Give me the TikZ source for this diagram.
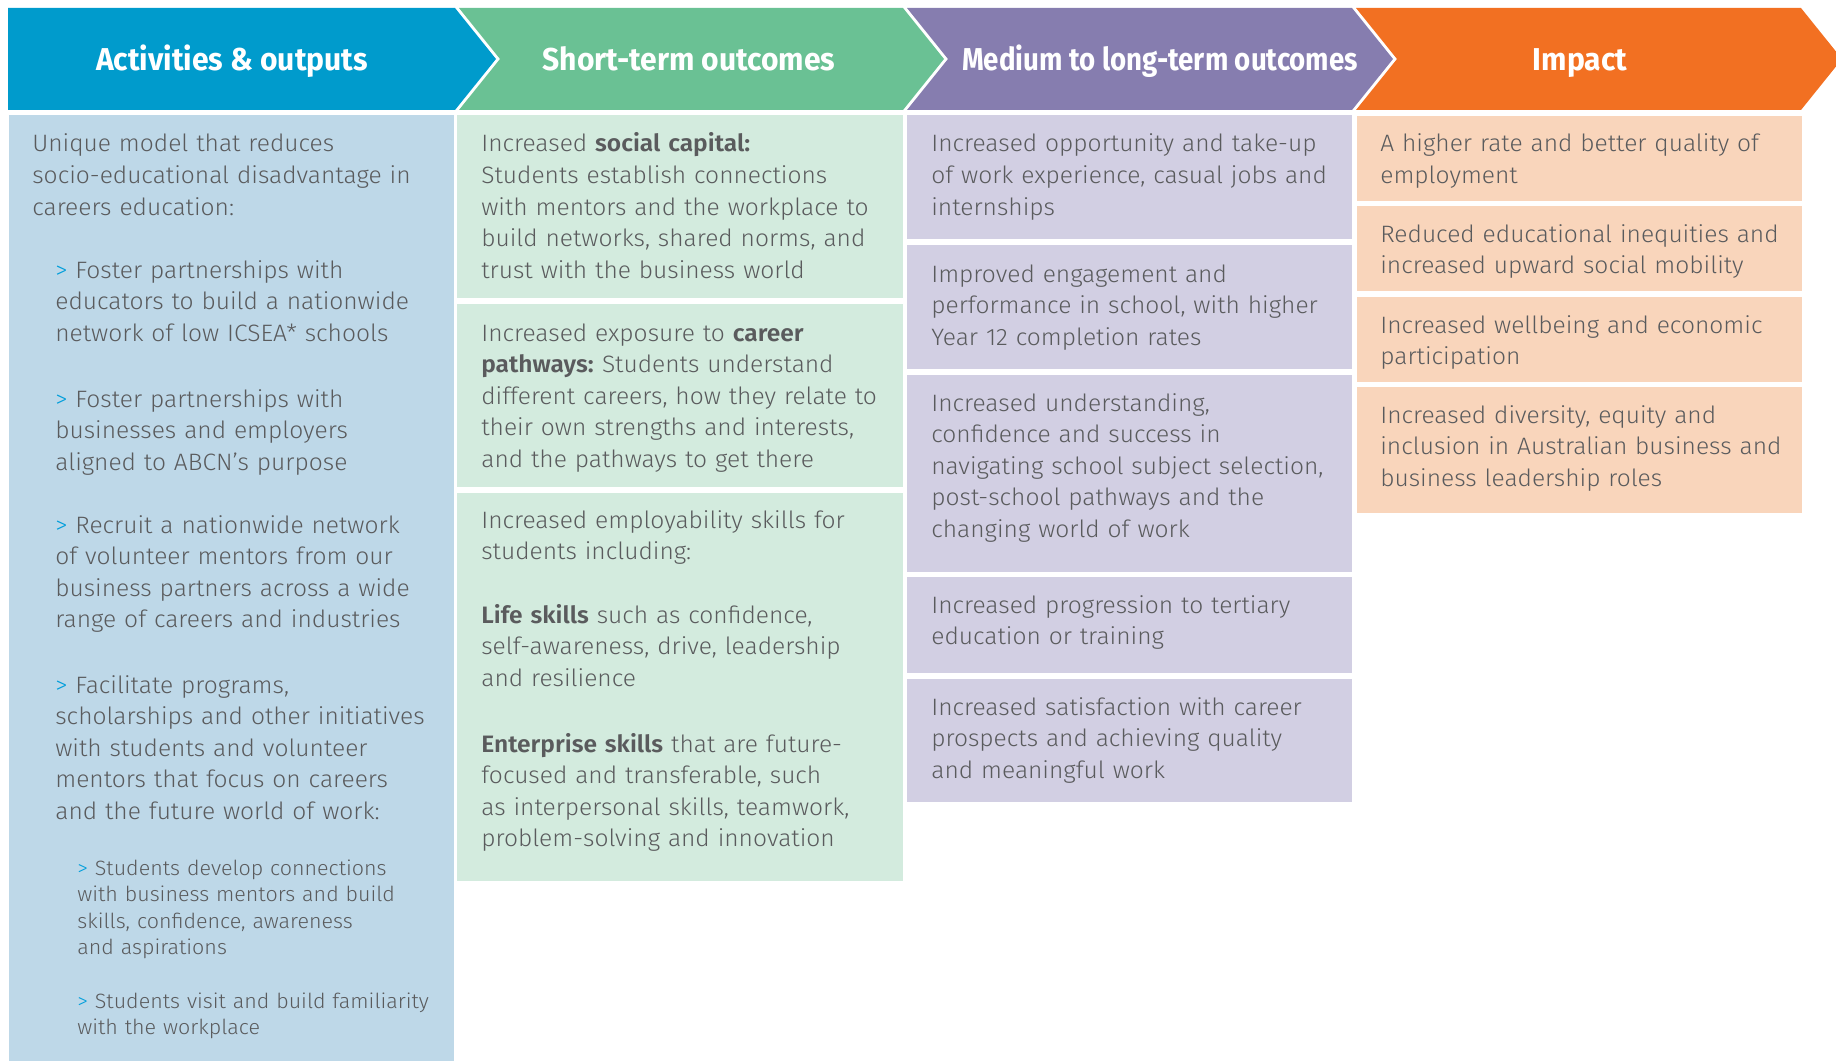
\documentclass[tikz,border=0pt]{standalone}
\usepackage{fontspec}
\setmainfont{Fira Sans}[UprightFont=* Light, BoldFont=* SemiBold, FakeStretch=1.035]
\newfontfamily\headfont{Fira Sans}[UprightFont=* Bold, FakeStretch=0.95]
\newfontfamily\headnarrow{Fira Sans}[UprightFont=* Bold, FakeStretch=0.875]
\usetikzlibrary{positioning}

\definecolor{actdark}{HTML}{009BCC}
\definecolor{actlight}{HTML}{BED8E8}
\definecolor{shortdark}{HTML}{6AC194}
\definecolor{shortlight}{HTML}{D3EBDE}
\definecolor{meddark}{HTML}{867DAF}
\definecolor{medlight}{HTML}{D2CFE3}
\definecolor{impdark}{HTML}{F27022}
\definecolor{implight}{HTML}{F9D5BB}
\definecolor{bodygrey}{HTML}{5A5B5D}
\definecolor{bulletblue}{HTML}{009EDB}
\newcommand{\nxt}{{\color{bulletblue}>}\ }

\begin{document}
\begin{tikzpicture}[x=0.02cm, y=-0.02cm,
  head/.style={anchor=base, inner sep=0pt, text=white, font=\headfont\fontsize{18}{20}\selectfont},
  para/.style={anchor=base west, inner sep=0pt, text width=9.4cm, align=left, text=bodygrey, font=\fontsize{13.5}{17.97}\selectfont},
  subpara/.style={para, font=\fontsize{11.8}{15.1}\selectfont}]

\useasboundingbox (0,0) rectangle (1836,1061);

% header chevrons
\fill[actdark] (8,8) -- (455,8) -- (496,59) -- (455,110) -- (8,110) -- cycle;
\fill[shortdark] (459,8) -- (903,8) -- (944,59) -- (903,110) -- (459,110) -- (500,59) -- cycle;
\fill[meddark] (907,8) -- (1352,8) -- (1393,59) -- (1352,110) -- (907,110) -- (948,59) -- cycle;
\fill[impdark] (1356,8) -- (1801,8) -- (1842,59) -- (1801,110) -- (1356,110) -- (1397,59) -- cycle;

\node[head] (h1) at (232,71) {Activities \& outputs};
\node[head] (h2) at (689,71) {Short-term outcomes};
\node[head, font=\headnarrow\fontsize{18}{20}\selectfont] (h3) at (1160,71) {Medium to long-term outcomes};
\node[head] (h4) at (1580,71) {Impact};

% cells
\fill[actlight] (9,115) rectangle (454,1061);
\fill[shortlight] (457,115) rectangle (903,298);
\fill[shortlight] (457,304) rectangle (903,487);
\fill[shortlight] (457,493) rectangle (903,881);
\fill[medlight] (907,115) rectangle (1352,239);
\fill[medlight] (907,245) rectangle (1352,369);
\fill[medlight] (907,375) rectangle (1352,572);
\fill[medlight] (907,577) rectangle (1352,673);
\fill[medlight] (907,679) rectangle (1352,802);
\fill[implight] (1357,116) rectangle (1802,201);
\fill[implight] (1357,206) rectangle (1802,291);
\fill[implight] (1357,297) rectangle (1802,382);
\fill[implight] (1357,387) rectangle (1802,513);

\node[para] (act) at (32,152) {Unique model that reduces\\socio-educational disadvantage in\\careers education:};
\node[para] (act1) at (55,278) {\nxt Foster partnerships with\\educators to build a nationwide\\network of low ICSEA* schools};
\node[para] (act2) at (55,407) {\nxt Foster partnerships with\\businesses and employers\\aligned to ABCN’s purpose};
\node[para] (act3) at (55,533) {\nxt Recruit a nationwide network\\of volunteer mentors from our\\business partners across a wide\\range of careers and industries};
\node[para] (act4) at (55,693) {\nxt Facilitate programs,\\scholarships and other initiatives\\with students and volunteer\\mentors that focus on careers\\and the future world of work:};
\node[subpara] (act4a) at (77,875) {\nxt Students develop connections\\with business mentors and build\\skills, confidence, awareness\\and aspirations};
\node[subpara] (act4b) at (77,1008) {\nxt Students visit and build familiarity\\with the workplace};

\node[para] (st1) at (481,152) {Increased \textbf{social capital:}\\Students establish connections\\with mentors and the workplace to\\build networks, shared norms, and\\trust with the business world};
\node[para] (st2) at (481,341) {Increased exposure to \textbf{career}\\\textbf{pathways:}\hspace{-2pt} Students understand\\different careers, how they relate to\\their own strengths and interests,\\and the pathways to get there};
\node[para] (st3) at (481,528) {Increased employability skills for\\students including:};
\node[para] (st3a) at (481,623) {\textbf{Life skills} such as confidence,\\self-awareness, drive, leadership\\and resilience};
\node[para] (st3b) at (481,752) {\textbf{Enterprise skills} that are future-\\focused and transferable, such\\as interpersonal skills, teamwork,\\problem-solving and innovation};

\node[para] (mt1) at (931,152) {Increased opportunity and take-up\\of work experience, casual jobs and\\internships};
\node[para] (mt2) at (931,282) {Improved engagement and\\performance in school, with higher\\Year 12 completion rates};
\node[para] (mt3) at (931,411) {Increased understanding,\\confidence and success in\\navigating school subject selection,\\post-school pathways and the\\changing world of work};
\node[para] (mt4) at (931,613) {Increased progression to tertiary\\education or training};
\node[para] (mt5) at (931,715) {Increased satisfaction with career\\prospects and achieving quality\\and meaningful work};

\node[para] (im1) at (1380,152) {A higher rate and better quality of\\employment};
\node[para] (im2) at (1380,242) {Reduced educational inequities and\\increased upward social mobility};
\node[para] (im3) at (1380,333) {Increased wellbeing and economic\\participation};
\node[para] (im4) at (1380,423) {Increased diversity, equity and\\inclusion in Australian business and\\business leadership roles};

\end{tikzpicture}
\end{document}
